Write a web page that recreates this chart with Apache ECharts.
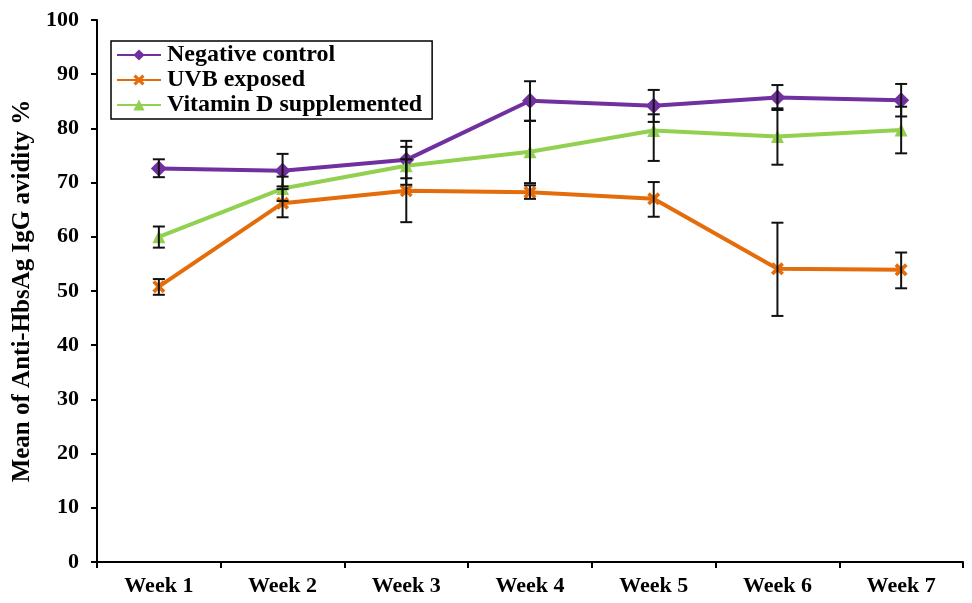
<!DOCTYPE html>
<html>
<head>
<meta charset="utf-8">
<script src="https://cdn.jsdelivr.net/npm/echarts@6/dist/echarts.min.js"></script>
<style>html,body{margin:0;padding:0;background:#fff}#c{width:972px;height:603px}</style>
</head>
<body>
<div id="c"></div>
<script>
const categories = ['Week 1','Week 2','Week 3','Week 4','Week 5','Week 6','Week 7'];
const yTicks = [0,10,20,30,40,50,60,70,80,90,100];

const negName = 'Negative control';
const negMean = [72.6, 72.2, 74.2, 85.1, 84.2, 85.7, 85.2];
const negLow  = [71.0, 69.3, 70.8, 81.4, 81.2, 83.4, 82.2];
const negHigh = [74.3, 75.3, 77.7, 88.7, 87.1, 88.0, 88.2];

const uvbName = 'UVB exposed';
const uvbMean = [50.8, 66.2, 68.5, 68.2, 67.0, 54.1, 53.9];
const uvbLow  = [49.3, 63.6, 62.7, 67.0, 63.7, 45.4, 50.5];
const uvbHigh = [52.2, 68.8, 74.3, 69.5, 70.1, 62.6, 57.1];

const vitName = 'Vitamin D supplemented';
const vitMean = [60.0, 68.9, 73.1, 75.7, 79.6, 78.5, 79.7];
const vitLow  = [58.0, 66.6, 69.6, 69.9, 74.0, 73.3, 75.4];
const vitHigh = [61.9, 71.1, 76.6, 81.4, 82.6, 83.7, 84.0];

const FONT = '"Liberation Serif", "Times New Roman", serif';
const xPath = 'path://M0,2 L2,0 L5,3 L8,0 L10,2 L7,5 L10,8 L8,10 L5,7 L2,10 L0,8 L3,5 Z';

function lineSeries(name, data, color, symbol, size) {
  return {
    name: name, type: 'line', data: data, z: 3,
    symbol: symbol, symbolSize: size, showSymbol: true,
    lineStyle: { color: color, width: 4 },
    itemStyle: { color: color },
    emphasis: { disabled: true }
  };
}
function errSeries(low, high) {
  const d = low.map((l, i) => [i, l, high[i]]);
  return {
    type: 'custom', data: d, z: 4, silent: true,
    renderItem: function (params, api) {
      const x = api.value(0);
      const lo = api.coord([x, api.value(1)]);
      const hi = api.coord([x, api.value(2)]);
      const w = 6;
      const st = { stroke: '#111', lineWidth: 2 };
      return { type: 'group', children: [
        { type: 'line', shape: { x1: lo[0], y1: lo[1], x2: hi[0], y2: hi[1] }, style: st },
        { type: 'line', shape: { x1: lo[0]-w, y1: lo[1], x2: lo[0]+w, y2: lo[1] }, style: st },
        { type: 'line', shape: { x1: hi[0]-w, y1: hi[1], x2: hi[0]+w, y2: hi[1] }, style: st }
      ]};
    }
  };
}

const chart = echarts.init(document.getElementById('c'), null, { renderer: 'canvas' });
chart.setOption({
  animation: false,
  backgroundColor: '#fff',
  textStyle: { fontFamily: FONT },
  grid: { left: 97, right: 9, top: 20, bottom: 41 },
  legend: {
    left: 111, top: 41, orient: 'vertical',
    data: [negName, uvbName, vitName],
    itemWidth: 44, itemHeight: 14, itemGap: 1,
    padding: [2, 10, 2, 5],
    borderColor: '#000', borderWidth: 1.5,
    textStyle: { fontFamily: FONT, fontWeight: 'bold', fontSize: 24, color: '#000', padding: [0,0,0,1] }
  },
  xAxis: {
    type: 'category', data: categories, boundaryGap: true,
    axisLine: { lineStyle: { color: '#000', width: 2 } },
    axisTick: { show: true, length: 6, lineStyle: { color: '#000', width: 2 } },
    axisLabel: { fontFamily: FONT, fontWeight: 'bold', fontSize: 22, color: '#000', margin: 13 }
  },
  yAxis: {
    type: 'value', min: yTicks[0], max: yTicks[yTicks.length-1], interval: 10,
    name: 'Mean of Anti-HbsAg IgG avidity %', nameLocation: 'middle', nameGap: 59,
    nameTextStyle: { fontFamily: FONT, fontWeight: 'bold', fontSize: 25, color: '#000' },
    axisLine: { show: true, lineStyle: { color: '#000', width: 2 } },
    axisTick: { show: true, length: 6, lineStyle: { color: '#000', width: 2 } },
    splitLine: { show: false },
    axisLabel: { fontFamily: FONT, fontWeight: 'bold', fontSize: 22, color: '#000', margin: 18 }
  },
  series: [
    lineSeries(negName, negMean, '#7030A0', 'diamond', 16),
    lineSeries(uvbName, uvbMean, '#E46C0A', xPath, 13),
    lineSeries(vitName, vitMean, '#92D050', 'triangle', 13),
    errSeries(negLow, negHigh),
    errSeries(uvbLow, uvbHigh),
    errSeries(vitLow, vitHigh)
  ]
});
</script>
</body>
</html>
